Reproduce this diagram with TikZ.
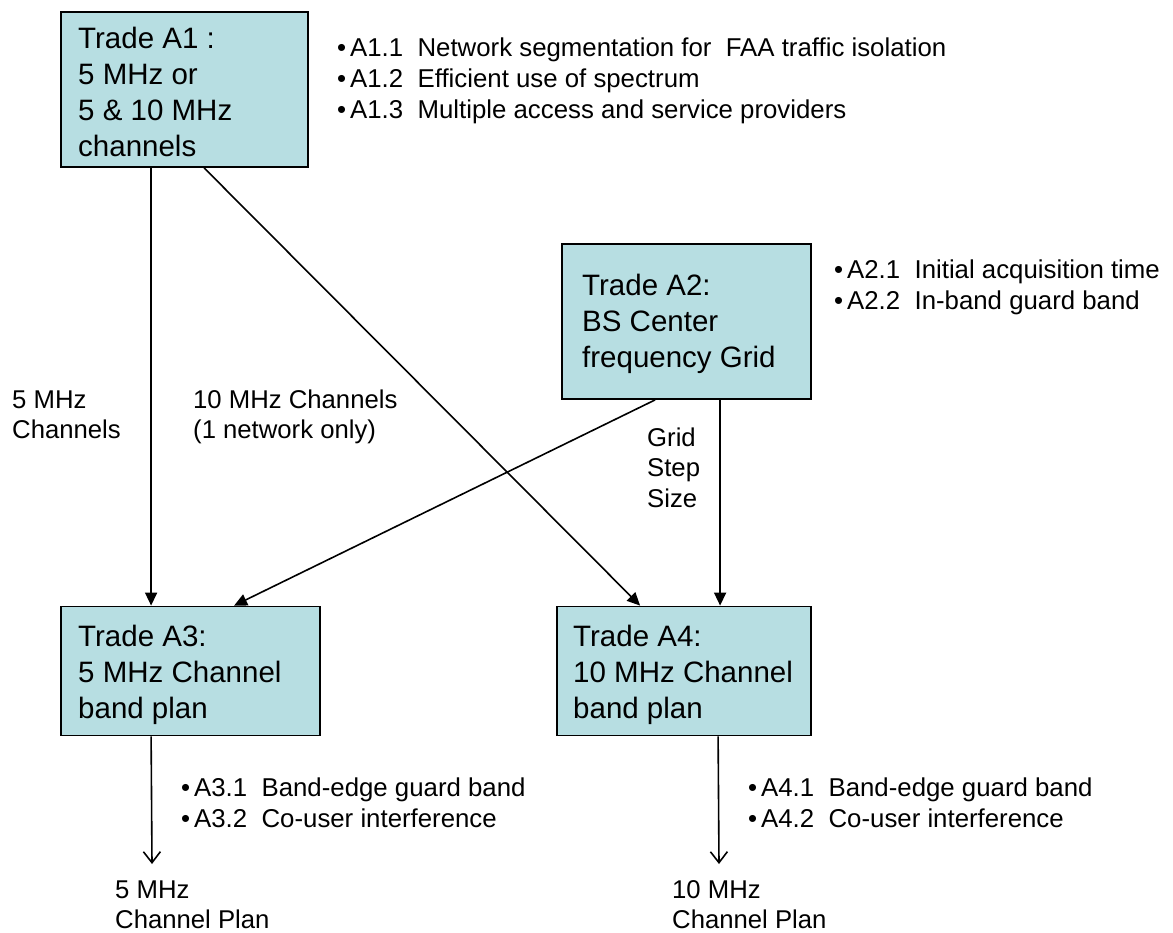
\documentclass[tikz,border=0pt]{standalone}
\usepackage{fontspec}
\setmainfont{Liberation Sans}
\usetikzlibrary{arrows.meta}

\definecolor{tradefill}{RGB}{183,222,226}

% font sizes for the trade boxes, the labels and the bulleted notes
\newcommand\boxfont{\fontsize{29.5}{36}\selectfont}
\newcommand\notefont{\fontsize{25.7}{30.5}\selectfont}
\newcommand\listfont{\fontsize{25.8}{31}\selectfont}
% stack of left-aligned lines whose baseline is the first line's
\newcommand\stack[1]{\begin{tabular}[t]{@{}l@{}}#1\end{tabular}}
% one bulleted item: bullet, item number, two spaces, description
\newcommand\itm[2]{\makebox[13pt][l]{\textbullet}#1\ \ #2}

\tikzset{
  tradebox/.style={draw=black, line width=1.8pt, fill=tradefill, inner sep=0pt},
  boxtext/.style={anchor=base west, inner sep=0pt, font=\boxfont},
  notetext/.style={anchor=base west, inner sep=0pt, font=\notefont},
  listtext/.style={anchor=base west, inner sep=0pt, font=\listfont},
  flow/.style={line width=1.6pt, -{Triangle[length=13pt,width=12pt]}},
  outflow/.style={line width=1.6pt, -{Straight Barb[length=11pt,width=17pt]}},
}

\begin{document}
\begin{tikzpicture}[x=1pt, y=-1pt]
\useasboundingbox (0,0) rectangle (1173,933);

% trade boxes
\node[tradebox, minimum width=247pt, minimum height=155pt] (a1) at (184.5,89.5) {};
\node[tradebox, minimum width=249pt, minimum height=155pt] (a2) at (686.5,321.5) {};
\node[tradebox, minimum width=259pt, minimum height=129pt] (a3) at (190.5,671) {};
\node[tradebox, minimum width=254pt, minimum height=129pt] (a4) at (684,671) {};

% box captions
\node[boxtext] (a1t) at (78,49)  {\stack{Trade A1 :\\5 MHz or\\5 \& 10 MHz\\channels}};
\node[boxtext] (a2t) at (582,296) {\stack{Trade A2:\\BS Center\\frequency Grid}};
\node[boxtext] (a3t) at (78,646)  {\stack{Trade A3:\\5 MHz Channel\\band plan}};
\node[boxtext] (a4t) at (573,646) {\stack{Trade A4:\\10 MHz Channel\\band plan}};

% considerations listed beside each trade
\node[listtext] (a1n) at (337,57) {\stack{%
  \itm{A1.1}{Network segmentation for\ \ FAA traffic isolation}\\
  \itm{A1.2}{Efficient use of spectrum}\\
  \itm{A1.3}{Multiple access and service providers}}};
\node[listtext] (a2n) at (834,279) {\stack{%
  \itm{A2.1}{Initial acquisition time}\\
  \itm{A2.2}{In-band guard band}}};
\node[listtext] (a3n) at (181,796) {\stack{%
  \itm{A3.1}{Band-edge guard band}\\
  \itm{A3.2}{Co-user interference}}};
\node[listtext] (a4n) at (748,796) {\stack{%
  \itm{A4.1}{Band-edge guard band}\\
  \itm{A4.2}{Co-user interference}}};

% connector labels
\node[notetext] (l5)  at (12,408)  {\stack{5 MHz\\Channels}};
\node[notetext] (l10) at (193,408) {\stack{10 MHz Channels\\(1 network only)}};
\node[notetext] (lg)  at (647,446) {\stack{Grid\\Step\\Size}};

% resulting channel plans
\node[notetext] (p5)  at (115,898) {\stack{5 MHz\\Channel Plan}};
\node[notetext] (p10) at (672,898) {\stack{10 MHz\\Channel Plan}};
\coordinate (e3) at (152,864);
\coordinate (e4) at (719,864);

% dependencies between trades
\draw[flow] ([xshift=91pt]a1.south west)  -- ([xshift=91pt]a3.north west);
\draw[flow] ([xshift=144pt]a1.south west) -- ([xshift=84pt]a4.north west);
\draw[flow] ([xshift=94pt]a2.south west)  -- ([xshift=174pt]a3.north west);
\draw[flow] ([xshift=159pt]a2.south west) -- ([xshift=164pt]a4.north west);

% outputs
\draw[outflow] ([xshift=91pt]a3.south west)  -- (e3);
\draw[outflow] ([xshift=162pt]a4.south west) -- (e4);
\end{tikzpicture}
\end{document}
